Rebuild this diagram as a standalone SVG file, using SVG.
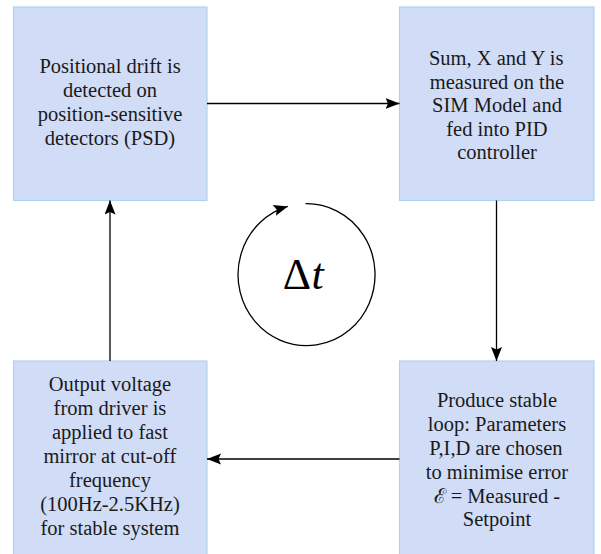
<svg xmlns="http://www.w3.org/2000/svg" width="601" height="554" viewBox="0 0 601 554">
  <defs>
    <marker id="head" markerUnits="userSpaceOnUse" markerWidth="16" markerHeight="12" refX="14" refY="5.5" orient="auto">
      <path d="M0,0 L14,5.5 L0,11 L2.5,5.5 Z" fill="#000"/>
    </marker>
  </defs>
  <rect width="601" height="554" fill="#fff"/>

  <!-- labels are start-anchored; x values centre each line in its box -->
  <g id="node-psd">
    <rect x="13.5" y="7" width="193.5" height="193.5" fill="#d1dcf7" stroke="#acd6ef" stroke-width="1.2"/>
    <text x="39.4" y="73" font-family="Liberation Serif" font-size="20.5" fill="#1a1a1a">Positional drift is</text>
    <text x="63" y="97" font-family="Liberation Serif" font-size="20.5" fill="#1a1a1a">detected on</text>
    <text x="37.7" y="121" font-family="Liberation Serif" font-size="20.5" fill="#1a1a1a">position-sensitive</text>
    <text x="44.8" y="145" font-family="Liberation Serif" font-size="20.5" fill="#1a1a1a">detectors (PSD)</text>
  </g>

  <g id="node-sim">
    <rect x="399.5" y="7" width="194.5" height="193.5" fill="#d1dcf7" stroke="#acd6ef" stroke-width="1.2"/>
    <text x="428.9" y="65" font-family="Liberation Serif" font-size="20.5" fill="#1a1a1a">Sum, X and Y is</text>
    <text x="429.8" y="88.5" font-family="Liberation Serif" font-size="20.5" fill="#1a1a1a">measured on the</text>
    <text x="432.1" y="112" font-family="Liberation Serif" font-size="20.5" fill="#1a1a1a">SIM Model and</text>
    <text x="446.3" y="135.5" font-family="Liberation Serif" font-size="20.5" fill="#1a1a1a">fed into PID</text>
    <text x="457.2" y="159" font-family="Liberation Serif" font-size="20.5" fill="#1a1a1a">controller</text>
  </g>

  <g id="node-pid">
    <rect x="399.5" y="361" width="194.5" height="200" fill="#d1dcf7" stroke="#acd6ef" stroke-width="1.2"/>
    <text x="436.9" y="407" font-family="Liberation Serif" font-size="20.5" fill="#1a1a1a">Produce stable</text>
    <text x="427.8" y="431" font-family="Liberation Serif" font-size="20.5" fill="#1a1a1a">loop: Parameters</text>
    <text x="429.3" y="455" font-family="Liberation Serif" font-size="20.5" fill="#1a1a1a">P,I,D are chosen</text>
    <text x="425.8" y="479" font-family="Liberation Serif" font-size="20.5" fill="#1a1a1a">to minimise error</text>
    <text x="433.5" y="503" font-family="Liberation Serif" font-size="20.5" fill="#1a1a1a">ℰ = Measured -</text>
    <text x="462.8" y="526" font-family="Liberation Serif" font-size="20.5" fill="#1a1a1a">Setpoint</text>
  </g>

  <g id="node-driver">
    <rect x="13.5" y="361" width="193.5" height="200" fill="#d1dcf7" stroke="#acd6ef" stroke-width="1.2"/>
    <text x="48.8" y="391" font-family="Liberation Serif" font-size="20.5" fill="#1a1a1a">Output voltage</text>
    <text x="53.6" y="415" font-family="Liberation Serif" font-size="20.5" fill="#1a1a1a">from driver is</text>
    <text x="51.9" y="439" font-family="Liberation Serif" font-size="20.5" fill="#1a1a1a">applied to fast</text>
    <text x="43.4" y="463" font-family="Liberation Serif" font-size="20.5" fill="#1a1a1a">mirror at cut-off</text>
    <text x="69" y="487" font-family="Liberation Serif" font-size="20.5" fill="#1a1a1a">frequency</text>
    <text x="40.3" y="511" font-family="Liberation Serif" font-size="20.5" fill="#1a1a1a">(100Hz-2.5KHz)</text>
    <text x="40.5" y="535" font-family="Liberation Serif" font-size="20.5" fill="#1a1a1a">for stable system</text>
  </g>

  <!-- time-step loop in the middle -->
  <g id="cycle">
    <path d="M305.5,203.7 A68.5,71 0 1 1 287.8,206.4" fill="none" stroke="#000" stroke-width="1.3" marker-end="url(#head)"/>
    <text x="311" y="289" font-family="Liberation Serif" font-size="44" fill="#000" text-anchor="end">Δ</text>
    <text x="311.5" y="289" font-family="Liberation Serif" font-size="44" font-style="italic" fill="#000">t</text>
  </g>

  <g id="connectors" fill="none" stroke="#000" stroke-width="1.3">
    <line x1="207" y1="103.5" x2="399.5" y2="103.5" marker-end="url(#head)"/>
    <line x1="496.5" y1="200.5" x2="496.5" y2="361" marker-end="url(#head)"/>
    <line x1="399.5" y1="459" x2="207" y2="459" marker-end="url(#head)"/>
    <line x1="110" y1="361" x2="110" y2="200.5" marker-end="url(#head)"/>
  </g>
</svg>
